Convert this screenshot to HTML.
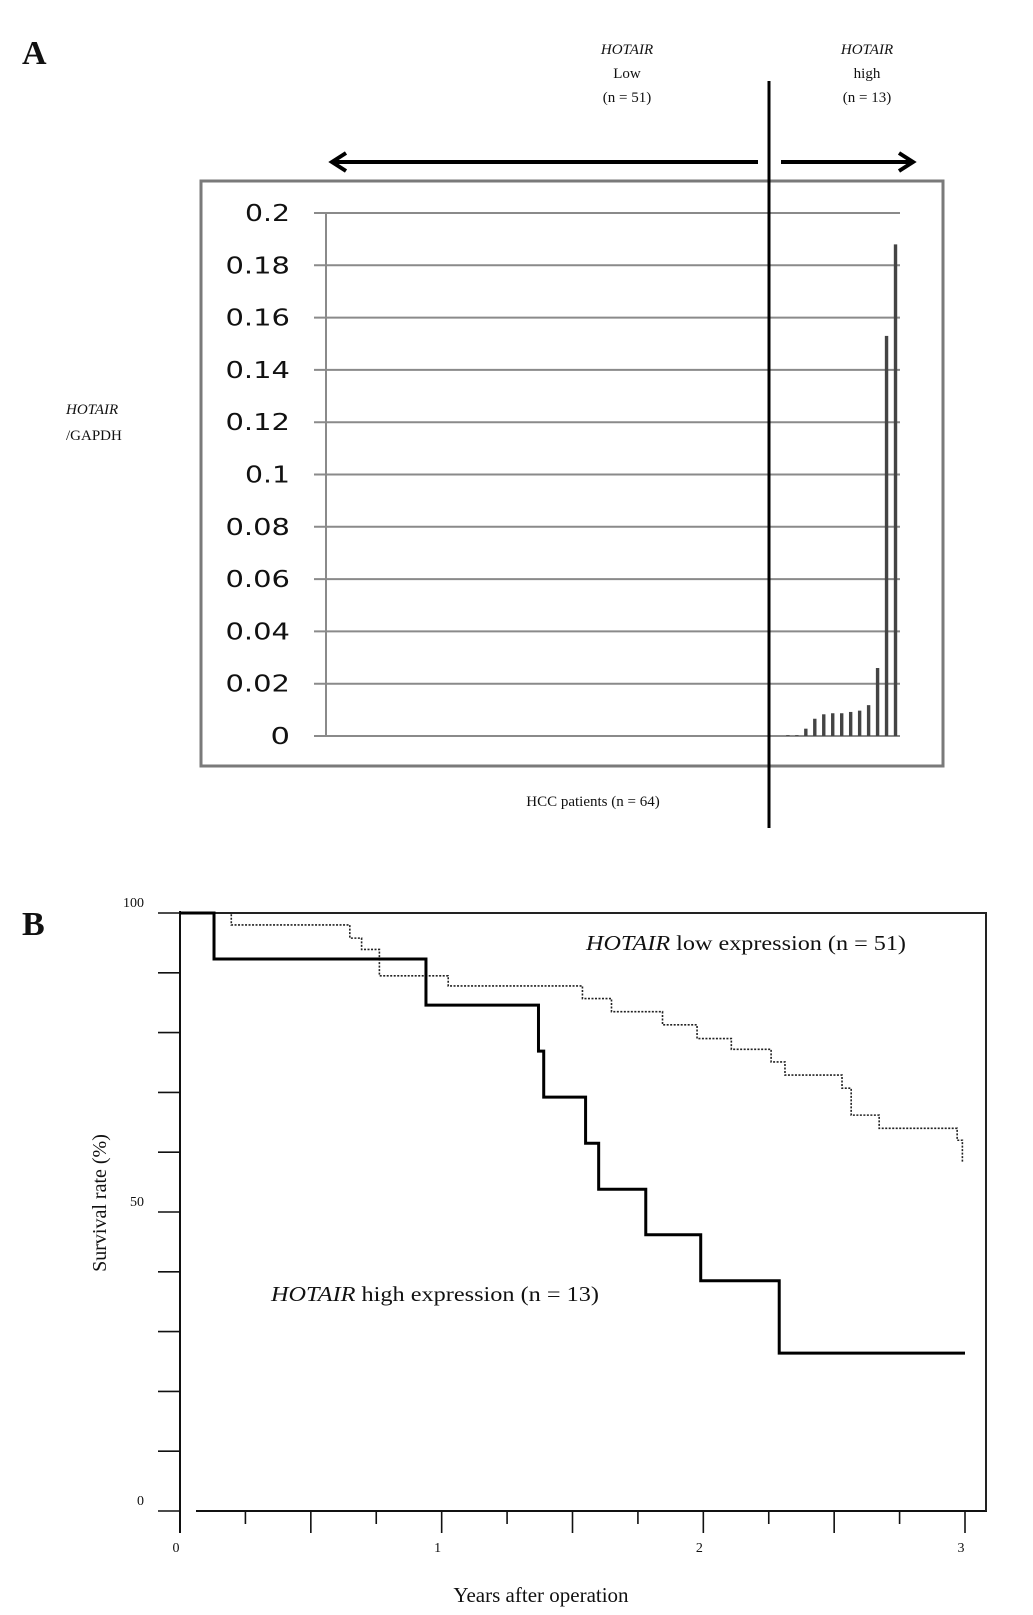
<!DOCTYPE html>
<html><head><meta charset="utf-8"><style>
html,body{margin:0;padding:0;background:#fff;}
svg{display:block;}
text{font-family:"Liberation Serif",serif;fill:#111;}
.sans{font-family:"DejaVu Sans","Liberation Sans",sans-serif;}
</style></head><body>
<svg id="fig" width="1033" height="1615" viewBox="0 0 1033 1615" xmlns="http://www.w3.org/2000/svg">
<g id="panelA">
  <text x="22" y="64" font-size="34" font-weight="bold">A</text>
  <rect x="201" y="181" width="742" height="585" fill="none" stroke="#7a7a7a" stroke-width="3"/>
  <g id="gridA"></g>
  <g id="barsA"></g>
  <text x="66" y="414" font-size="15" font-style="italic">HOTAIR</text>
  <text x="66" y="440" font-size="15">/GAPDH</text>
  <text x="593" y="806" font-size="15" text-anchor="middle">HCC patients (n = 64)</text>
  <line x1="769" y1="81" x2="769" y2="828" stroke="#000" stroke-width="3"/>
  <text x="627" y="54" font-size="15" font-style="italic" text-anchor="middle">HOTAIR</text>
  <text x="627" y="78" font-size="15" text-anchor="middle">Low</text>
  <text x="627" y="102" font-size="15" text-anchor="middle">(n = 51)</text>
  <text x="867" y="54" font-size="15" font-style="italic" text-anchor="middle">HOTAIR</text>
  <text x="867" y="78" font-size="15" text-anchor="middle">high</text>
  <text x="867" y="102" font-size="15" text-anchor="middle">(n = 13)</text>
  <line x1="334" y1="162" x2="758" y2="162" stroke="#000" stroke-width="4"/>
  <polyline points="346,153 332,162 346,171" fill="none" stroke="#000" stroke-width="4"/>
  <line x1="781" y1="162" x2="911" y2="162" stroke="#000" stroke-width="4"/>
  <polyline points="899,153 913,162 899,171" fill="none" stroke="#000" stroke-width="4"/>
</g>
<g id="panelB">
  <text x="22" y="935" font-size="34" font-weight="bold">B</text>
  <g id="axesB"></g>
  <g id="curvesB"></g>
  <text x="586" y="950" font-size="21" textLength="320" lengthAdjust="spacingAndGlyphs"><tspan font-style="italic">HOTAIR</tspan> low expression (n = 51)</text>
  <text x="271" y="1301" font-size="21" textLength="328" lengthAdjust="spacingAndGlyphs"><tspan font-style="italic">HOTAIR</tspan> high expression (n = 13)</text>
  <text x="0" y="0" font-size="20" text-anchor="middle" transform="translate(106,1203) rotate(-90)">Survival rate (%)</text>
  <text x="541" y="1602" font-size="21" text-anchor="middle">Years after operation</text>
</g>
<script>
// ---- Panel A data ----
const aTicks = [0, 0.02, 0.04, 0.06, 0.08, 0.1, 0.12, 0.14, 0.16, 0.18, 0.2];
const aTickLabels = ["0", "0.02", "0.04", "0.06", "0.08", "0.1", "0.12", "0.14", "0.16", "0.18", "0.2"];
const aPatientCount = 64;
const aHighIndex = [52, 53, 54, 55, 56, 57, 58, 59, 60, 61, 62, 63, 64];
const aHighValues = [0.0003, 0.0003, 0.0028, 0.0066, 0.0083, 0.0087, 0.0087, 0.0092, 0.0097, 0.0118, 0.026, 0.153, 0.188];

// ---- Panel B data ----
const bYTicks = [0, 10, 20, 30, 40, 50, 60, 70, 80, 90, 100];
const bYLabels = {0: "0", 50: "50", 100: "100"};
const bXTicks = [0.25, 0.5, 0.75, 1, 1.25, 1.5, 1.75, 2, 2.25, 2.5, 2.75, 3];
const bXLabels = [0, 1, 2, 3];
const highTimes = [0, 0.13, 0.94, 1.37, 1.39, 1.55, 1.60, 1.78, 1.99, 2.29];
const highSurv = [100, 92.3, 84.6, 76.9, 69.2, 61.5, 53.8, 46.2, 38.5, 26.4];
const highEnd = 3.0;
const lowTimes = [0, 0.196, 0.649, 0.694, 0.762, 1.025, 1.538, 1.649, 1.844, 1.976, 2.107, 2.259, 2.312, 2.53, 2.565, 2.672, 2.97, 2.99];
const lowSurv = [100, 98.0, 95.8, 93.9, 89.5, 87.8, 85.7, 83.5, 81.3, 79.0, 77.2, 75.1, 72.9, 70.7, 66.2, 64.0, 62.0, 58.2];
const lowEnd = 2.99;

const NS = "http://www.w3.org/2000/svg";
function mk(tag, attrs, parent) {
  const e = document.createElementNS(NS, tag);
  for (const k in attrs) e.setAttribute(k, attrs[k]);
  parent.appendChild(e);
  return e;
}

// Panel A scales
const ax0 = 326, ax1 = 900, ay0 = 736, ay1 = 213;
const ayScale = v => ay0 - (v / 0.2) * (ay0 - ay1);
const axScale = k => ax0 + (k - 0.5) * (ax1 - ax0) / aPatientCount;
const gA = document.getElementById('gridA');
aTicks.forEach((t, i) => {
  const y = ayScale(t);
  const l = mk('line', {x1: ax0 - 12, x2: ax1, y1: y, y2: y, stroke: '#8a8a8a', 'stroke-width': 2}, gA);
  
  
  const lab = aTickLabels[i];
  const nd = lab.replace('.', '').length, ndot = lab.length - nd;
  const w = nd * 19.5 + ndot * 6;
  const tx = mk('text', {x: 290 - w, y: y + 8, 'font-size': 23, class: 'sans', fill: '#222', textLength: w, lengthAdjust: 'spacingAndGlyphs'}, gA);
  tx.textContent = lab;
  
  
});
const yAxA = mk('line', {x1: ax0, x2: ax0, y1: ay1, y2: ay0, stroke: '#8a8a8a', 'stroke-width': 2}, gA);


const bA = document.getElementById('barsA');
aHighValues.forEach((v, i) => {
  const x = axScale(aHighIndex[i]);
  const r = mk('rect', {x: x - 1.7, y: ayScale(v), width: 3.4, height: ay0 - ayScale(v), fill: '#444'}, bA);
  
  
});

// Panel B scales
const bx0 = 180, bx3 = 965, by100 = 913, by0 = 1511;
const bx = t => bx0 + t * (bx3 - bx0) / 3;
const by = s => by0 - s * (by0 - by100) / 100;
const gB = document.getElementById('axesB');
const yax = mk('line', {x1: bx0, x2: bx0, y1: by100 - 2, y2: by0 + 22, stroke: '#111', 'stroke-width': 2}, gB);


const xax = mk('line', {x1: bx0 + 16, x2: 987, y1: by0, y2: by0, stroke: '#111', 'stroke-width': 2}, gB);


const topl = mk('line', {x1: bx0, x2: 987, y1: by100, y2: by100, stroke: '#222', 'stroke-width': 2}, gB);


const rl = mk('line', {x1: 986, x2: 986, y1: by100, y2: by0, stroke: '#222', 'stroke-width': 2}, gB);


bYTicks.forEach(s => {
  const y = by(s);
  const t = mk('line', {x1: bx0 - 22, x2: bx0, y1: y, y2: y, stroke: '#111', 'stroke-width': 1.6}, gB);
  
  
  if (bYLabels[s] !== undefined) {
    const tx = mk('text', {x: bx0 - 36, y: y - 6, 'font-size': 14, 'text-anchor': 'end'}, gB);
    tx.textContent = bYLabels[s];
    
    
  }
});
bXTicks.forEach(t => {
  const x = bx(t);
  const long = Math.abs(t * 2 - Math.round(t * 2)) < 1e-6;
  const l = mk('line', {x1: x, x2: x, y1: by0, y2: by0 + (long ? 22 : 13), stroke: '#111', 'stroke-width': 1.6}, gB);
  
  
});
bXLabels.forEach(t => {
  const tx = mk('text', {x: bx(t) - 4, y: 1552, 'font-size': 14, 'text-anchor': 'middle'}, gB);
  tx.textContent = String(t);
  
  
});
function stepPath(times, surv, end) {
  let d = 'M' + bx(times[0]) + ',' + by(surv[0]);
  for (let i = 1; i < times.length; i++) {
    d += ' H' + bx(times[i]) + ' V' + by(surv[i]);
  }
  d += ' H' + bx(end);
  return d;
}
const cB = document.getElementById('curvesB');
const lowP = mk('path', {d: stepPath(lowTimes, lowSurv, lowEnd), fill: 'none', stroke: '#222', 'stroke-width': 1.6, 'stroke-dasharray': '2,1.5'}, cB);


const highP = mk('path', {d: stepPath(highTimes, highSurv, highEnd), fill: 'none', stroke: '#000', 'stroke-width': 3}, cB);


</script>
</svg>
</body></html>
